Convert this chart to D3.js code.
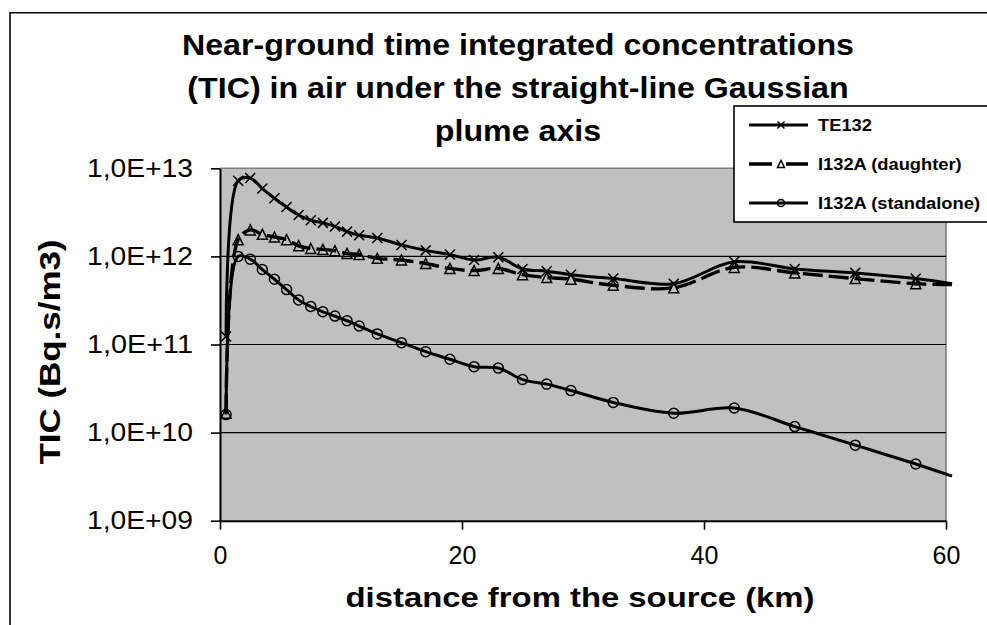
<!DOCTYPE html>
<html>
<head>
<meta charset="utf-8">
<script src="https://cdn.jsdelivr.net/npm/d3@7"></script>
<style>
  html, body { margin: 0; padding: 0; background: #fff; }
  svg { display: block; font-family: Arial, "Liberation Sans", sans-serif; }
</style>
</head>
<body>
<svg id="chart" width="987" height="625"></svg>
<script>
// Distance along the plume axis (km)
const distance = [0.5, 1.5, 2.5, 3.5, 4.5, 5.5, 6.5, 7.5, 8.5, 9.5, 10.5, 11.5, 13, 15, 17, 19, 21, 23, 25, 27, 29, 32.5, 37.5, 42.5, 47.5, 52.5, 57.5, 60.5];

// Time integrated concentrations (Bq.s/m3)
const te132 = [1.23e11, 7.24e12, 7.76e12, 5.89e12, 4.57e12, 3.63e12, 2.95e12, 2.57e12, 2.40e12, 2.19e12, 1.91e12, 1.74e12, 1.62e12, 1.35e12, 1.17e12, 1.05e12, 9.1e11, 9.8e11, 7.2e11, 6.8e11, 6.2e11, 5.6e11, 4.9e11, 8.7e11, 7.2e11, 6.5e11, 5.6e11, 4.9e11];
const i132aDaughter = [1.66e10, 1.55e12, 2.0e12, 1.78e12, 1.66e12, 1.55e12, 1.32e12, 1.23e12, 1.20e12, 1.16e12, 1.08e12, 1.05e12, 9.5e11, 9.1e11, 8.3e11, 7.3e11, 6.9e11, 7.3e11, 6.2e11, 5.75e11, 5.5e11, 4.7e11, 4.4e11, 7.5e11, 6.5e11, 5.6e11, 4.9e11, 4.8e11];
const i132aStandalone = [1.6e10, 1.0e12, 9.3e11, 7.1e11, 5.5e11, 4.2e11, 3.2e11, 2.7e11, 2.35e11, 2.1e11, 1.86e11, 1.62e11, 1.32e11, 1.05e11, 8.3e10, 6.8e10, 5.6e10, 5.4e10, 4.0e10, 3.55e10, 3.0e10, 2.2e10, 1.66e10, 1.9e10, 1.17e10, 7.2e9, 4.4e9, 3.2e9];

const seriesNames = ["TE132", "I132A (daughter)", "I132A (standalone)"];
const yTicks = [1e9, 1e10, 1e11, 1e12, 1e13];
const xTicks = [0, 20, 40, 60];
const titleLines = ["Near-ground time integrated concentrations", "(TIC) in air under the straight-line Gaussian", "plume axis"];
const xTitle = "distance from the source (km)";
const yTitle = "TIC (Bq.s/m3)";

const svg = d3.select("#chart");
const W = 987, H = 625;
const plot = { left: 220, right: 946, top: 168.3, bottom: 520.7 };

svg.append("rect").attr("width", W).attr("height", H).attr("fill", "#fff");

// Outer chart frame (top and left edges)
svg.append("path")
  .attr("d", `M10,${H} L10,12.7 L${W},12.7`)
  .attr("fill", "none").attr("stroke", "#000").attr("stroke-width", 1.6);

const x = d3.scaleLinear().domain([0, 60]).range([plot.left, plot.right]);
const y = d3.scaleLog().domain([1e9, 1e13]).range([plot.bottom, plot.top]);

// Plot area
svg.append("rect")
  .attr("x", plot.left).attr("y", plot.top)
  .attr("width", plot.right - plot.left).attr("height", plot.bottom - plot.top)
  .attr("fill", "#c0c0c0");
svg.append("path")
  .attr("d", `M${plot.left},${plot.top} L${plot.right},${plot.top} L${plot.right},${plot.bottom}`)
  .attr("fill", "none").attr("stroke", "#808080").attr("stroke-width", 1.6);

// Horizontal gridlines
svg.append("g").selectAll("line")
  .data(yTicks.filter(v => v > 1e9 && v < 1e13))
  .join("line")
  .attr("x1", plot.left).attr("x2", plot.right)
  .attr("y1", d => y(d)).attr("y2", d => y(d))
  .attr("stroke", "#000").attr("stroke-width", 1.2);

// Axes
const fmtE = v => {
  const e = Math.round(Math.log10(v));
  return "1,0E+" + String(e).padStart(2, "0");
};
const yAxis = svg.append("g")
  .attr("transform", `translate(${plot.left},0)`)
  .call(d3.axisLeft(y).tickValues(yTicks).tickFormat(fmtE).tickSize(9).tickSizeOuter(0).tickPadding(18));
const xAxis = svg.append("g")
  .attr("transform", `translate(0,${plot.bottom})`)
  .call(d3.axisBottom(x).tickValues(xTicks).tickFormat(d3.format("d")).tickSize(9).tickSizeOuter(0).tickPadding(17));

[yAxis, xAxis].forEach(g => {
  g.select(".domain").attr("stroke", "#000").attr("stroke-width", 2);
  g.selectAll(".tick line").attr("stroke", "#000").attr("stroke-width", 1.6);
  g.selectAll(".tick text")
    .attr("fill", "#000")
    .style("font-family", "Arial, 'Liberation Sans', sans-serif")
    .style("font-size", "25px");
});
yAxis.selectAll(".tick text").attr("textLength", 106).attr("lengthAdjust", "spacingAndGlyphs");

// Series lines (smoothed)
const line = d3.line()
  .x(d => x(d[0]))
  .y(d => y(d[1]))
  .curve(d3.curveCatmullRom.alpha(0.5));

const series = [
  { name: seriesNames[0], values: te132, dash: null, width: 3, marker: "x" },
  { name: seriesNames[1], values: i132aDaughter, dash: "20,6", width: 3.4, marker: "tri" },
  { name: seriesNames[2], values: i132aStandalone, dash: null, width: 3, marker: "circle" }
];

series.forEach(s => {
  const pts = distance.map((d, i) => [d, s.values[i]]);
  svg.append("path")
    .attr("d", line(pts))
    .attr("fill", "none")
    .attr("stroke", "#000")
    .attr("stroke-width", s.width)
    .attr("stroke-dasharray", s.dash)
    .attr("stroke-linejoin", "round");
});

function drawMarker(g, type, cx, cy, size) {
  const r = size / 2;
  if (type === "x") {
    g.append("path")
      .attr("d", `M${cx - r},${cy - r} L${cx + r},${cy + r} M${cx - r},${cy + r} L${cx + r},${cy - r}`)
      .attr("stroke", "#000").attr("stroke-width", 1.5).attr("fill", "none");
  } else if (type === "tri") {
    g.append("path")
      .attr("d", `M${cx},${cy - r} L${cx + r},${cy + r} L${cx - r},${cy + r} Z`)
      .attr("stroke", "#000").attr("stroke-width", 1.5).attr("fill", "none");
  } else {
    g.append("circle")
      .attr("cx", cx).attr("cy", cy).attr("r", r)
      .attr("stroke", "#000").attr("stroke-width", 1.5).attr("fill", "none");
  }
}

const markers = svg.append("g");
series.forEach(s => {
  distance.forEach((d, i) => {
    if (d > 60) return;
    drawMarker(markers, s.marker, x(d), y(s.values[i]), 10);
  });
});

// Title
const titleG = svg.append("g");
const titleBase = [55, 98, 141];
const titleTexts = titleLines.map((t, i) =>
  titleG.append("text")
    .attr("x", 518).attr("y", titleBase[i])
    .attr("text-anchor", "middle")
    .style("font-size", "29px").style("font-weight", "bold")
    .text(t));
const titleFactor = 672 / titleTexts[0].node().getComputedTextLength();
titleTexts.forEach(t => {
  t.attr("textLength", t.node().getComputedTextLength() * titleFactor)
   .attr("lengthAdjust", "spacingAndGlyphs");
});

// Axis titles
svg.append("text")
  .attr("x", 580).attr("y", 607)
  .attr("text-anchor", "middle")
  .style("font-size", "27px").style("font-weight", "bold")
  .attr("textLength", 469).attr("lengthAdjust", "spacingAndGlyphs")
  .text(xTitle);

svg.append("text")
  .attr("transform", "translate(60,352) rotate(-90)")
  .attr("text-anchor", "middle")
  .style("font-size", "29px").style("font-weight", "bold")
  .attr("textLength", 225).attr("lengthAdjust", "spacingAndGlyphs")
  .text(yTitle);

// Legend
const legend = svg.append("g");
legend.append("rect")
  .attr("x", 734).attr("y", 106).attr("width", 270).attr("height", 116)
  .attr("fill", "#fff").attr("stroke", "#000").attr("stroke-width", 1.6);
const legendY = [125, 164, 203];
const legendTexts = series.map((s, i) => {
  const ly = legendY[i];
  legend.append("line")
    .attr("x1", 749).attr("x2", 808).attr("y1", ly).attr("y2", ly)
    .attr("stroke", "#000").attr("stroke-width", s.width)
    .attr("stroke-dasharray", s.dash ? "23,14" : null);
  drawMarker(legend, s.marker, 781, ly, 7);
  return legend.append("text")
    .attr("x", 818).attr("y", ly + 6)
    .style("font-size", "17px").style("font-weight", "bold")
    .text(s.name);
});
// Legend labels are spread slightly wider than the font's natural width
const legendFactor = 162 / legendTexts[2].node().getComputedTextLength();
legendTexts.forEach(t => {
  t.attr("textLength", t.node().getComputedTextLength() * legendFactor)
   .attr("lengthAdjust", "spacingAndGlyphs");
});
</script>
</body>
</html>
